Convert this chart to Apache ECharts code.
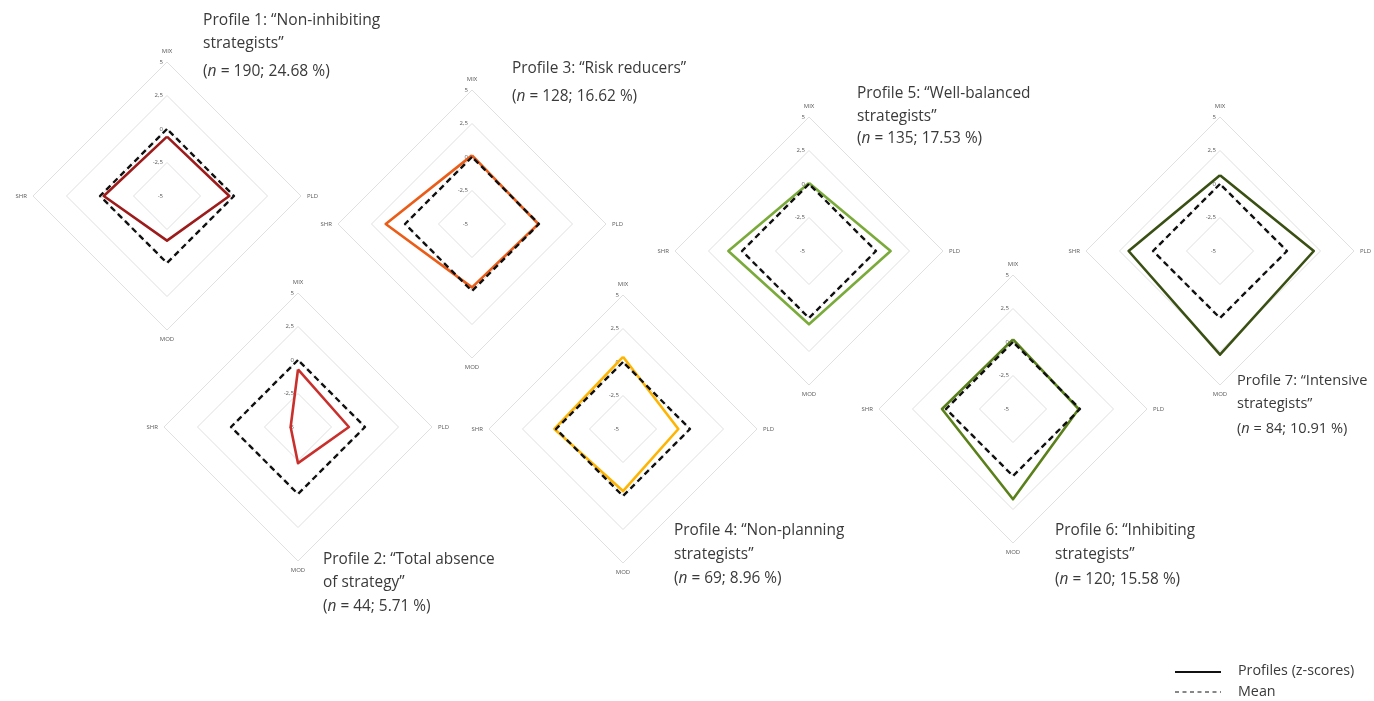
<!DOCTYPE html>
<html>
<head>
<meta charset="utf-8">
<script src="https://cdn.jsdelivr.net/npm/echarts@6/dist/echarts.min.js"></script>
<style>
html,body{margin:0;padding:0;background:#fff;}
#chart{width:1374px;height:701px;}
</style>
</head>
<body>
<div id="chart"></div>
<script>
// ---- data ----
var axisNames = ['MIX', 'PLD', 'MOD', 'SHR'];
var scaleMin = -5, scaleMax = 5, scaleStep = 2.5;

var profile1 = [-0.57, -0.35, -1.67, -0.28];
var profile2 = [-0.70, -1.20, -2.30, -4.45];
var profile3 = [0.12, -0.05, -0.27, 1.44];
var profile4 = [0.39, -0.87, -0.37, 0.12];
var profile5 = [0.07, 1.09, 0.47, 1.02];
var profile6 = [0.20, -0.10, 1.74, 0.30];
var profile7 = [0.66, 2.00, 2.74, 1.82];
var meanValues = [0, 0, 0, 0];

var profileTitles = [
  ['Profile 1: \u201cNon-inhibiting', 'strategists\u201d'],
  ['Profile 2: \u201cTotal absence', 'of strategy\u201d'],
  ['Profile 3: \u201cRisk reducers\u201d'],
  ['Profile 4: \u201cNon-planning', 'strategists\u201d'],
  ['Profile 5: \u201cWell-balanced', 'strategists\u201d'],
  ['Profile 6: \u201cInhibiting', 'strategists\u201d'],
  ['Profile 7: \u201cIntensive', 'strategists\u201d']
];
var profileN = [190, 44, 128, 69, 135, 120, 84];
var profilePct = ['24.68', '5.71', '16.62', '8.96', '17.53', '15.58', '10.91'];
var legendLabels = ['Profiles (z-scores)', 'Mean'];

// ---- presentation ----
var profiles = [profile1, profile2, profile3, profile4, profile5, profile6, profile7];
var colors = ['#9e1b1b', '#c9302c', '#eb5c17', '#ffb400', '#7aab3a', '#5a8019', '#3a5013'];
var centers = [[167, 196], [298, 427], [472, 224], [623, 429], [809, 251], [1013, 409], [1220, 251]];
var radius = 134;
var titlePos = [
  [203, 21, 44, 72],
  [323, 560, 583, 607],
  [512, 69, null, 97],
  [674, 531, 555, 579],
  [857, 94, 117, 139],
  [1055, 531, 555, 580],
  [1237, 381, 404, 429]
];
var titleSize = [15.6, 15.4, 15.4, 15.4, 15.4, 15.4, 14.6];
var FONT = '"Open Sans", "Noto Sans", sans-serif';

// ECharts lays indicators counter-clockwise from the top: MIX, SHR, MOD, PLD
var order = [0, 3, 2, 1];
function reorder(arr) { return order.map(function (i) { return arr[i]; }); }

var radars = [], series = [], graphics = [];
profiles.forEach(function (vals, k) {
  radars.push({
    center: centers[k],
    radius: radius,
    startAngle: 90,
    shape: 'polygon',
    splitNumber: 4,
    indicator: reorder(axisNames).map(function (nm, j) {
      return {
        name: nm, min: scaleMin, max: scaleMax,
        nameGap: j === 0 ? 8 : 6,
        axisLabel: {
          show: j === 0,
          fontSize: 6, color: '#595959', fontFamily: FONT, margin: 4,
          formatter: function (v) { return String(v).replace('.', ','); }
        }
      };
    }),
    axisName: { color: '#595959', fontSize: 6, fontFamily: FONT },
    splitLine: { lineStyle: { color: '#e0e0e0', width: 1 } },
    splitArea: { show: false },
    axisLine: { show: false },
    axisTick: { show: false }
  });
  series.push({
    type: 'radar',
    radarIndex: k,
    symbol: 'none',
    silent: true,
    data: [
      { value: reorder(vals), name: 'Profile ' + (k + 1),
        lineStyle: { color: colors[k], width: 2.6, type: 'solid' } },
      { value: reorder(meanValues), name: 'Mean',
        lineStyle: { color: '#111', width: 2.4, type: [6, 4] } }
    ]
  });
  var tp = titlePos[k];
  var lines = profileTitles[k];
  var fs = titleSize[k];
  graphics.push({ type: 'text', x: tp[0], y: tp[1],
    style: { text: lines[0], fill: '#3a3a3a', font: fs + 'px ' + FONT, textVerticalAlign: 'middle' } });
  if (lines[1]) graphics.push({ type: 'text', x: tp[0], y: tp[2],
    style: { text: lines[1], fill: '#3a3a3a', font: fs + 'px ' + FONT, textVerticalAlign: 'middle' } });
  graphics.push({ type: 'text', x: tp[0], y: tp[3],
    style: { text: '({i|n} = ' + profileN[k] + '; ' + profilePct[k] + ' %)',
      fill: '#3a3a3a', fontSize: fs, fontFamily: FONT, verticalAlign: 'middle',
      rich: { i: { fontStyle: 'italic', fontSize: fs, fontFamily: FONT, fill: '#3a3a3a' } } } });
});

// legend
graphics.push({ type: 'line', shape: { x1: 1175, y1: 672, x2: 1221, y2: 672 }, style: { stroke: '#111', lineWidth: 2 } });
graphics.push({ type: 'line', shape: { x1: 1175, y1: 692, x2: 1221, y2: 692 }, style: { stroke: '#111', lineWidth: 1.2, lineDash: [4, 3.5] } });
graphics.push({ type: 'text', x: 1238, y: 671, style: { text: legendLabels[0], fill: '#3a3a3a', font: '14.3px ' + FONT, textVerticalAlign: 'middle' } });
graphics.push({ type: 'text', x: 1238, y: 692, style: { text: legendLabels[1], fill: '#3a3a3a', font: '14.3px ' + FONT, textVerticalAlign: 'middle' } });

var chart = echarts.init(document.getElementById('chart'), null, { renderer: 'canvas' });
chart.setOption({
  animation: false,
  backgroundColor: '#fff',
  radar: radars,
  series: series,
  graphic: graphics
});
</script>
</body>
</html>
